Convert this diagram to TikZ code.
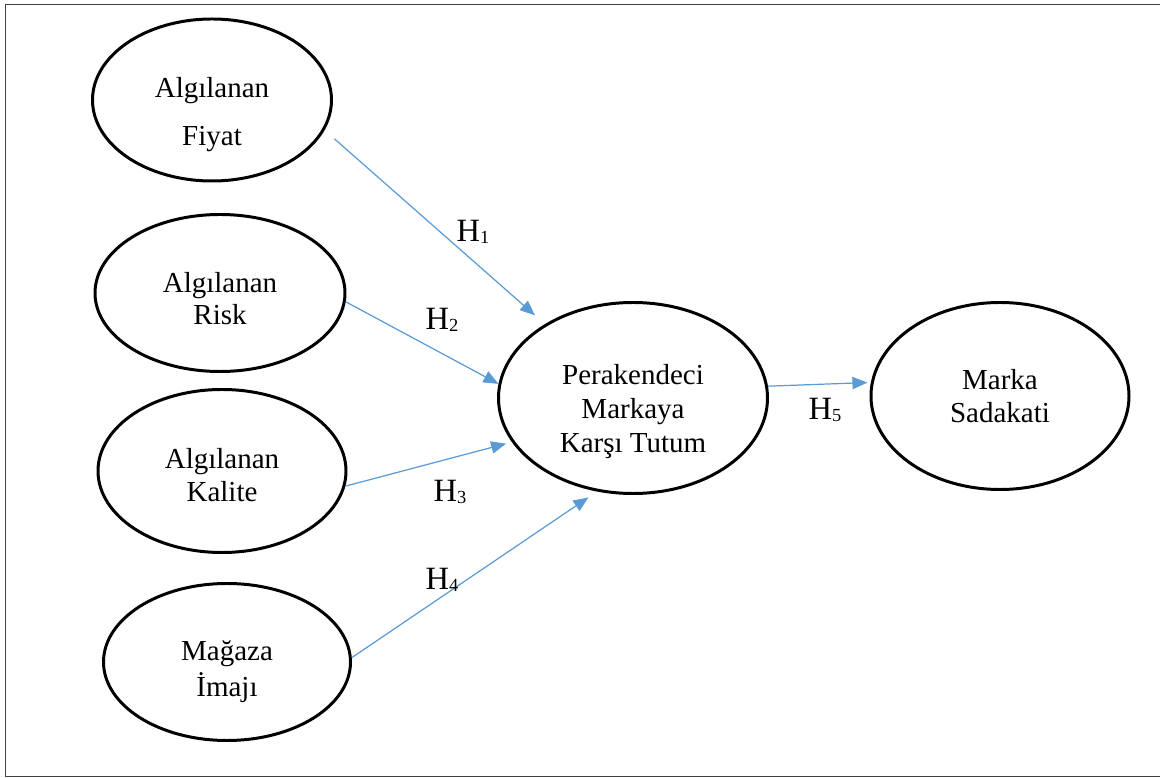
\documentclass[tikz,border=0pt]{standalone}
\usepackage{fontspec}
\setmainfont{Liberation Serif}
\usetikzlibrary{shapes.geometric,arrows.meta}
\definecolor{arrowblue}{HTML}{5B9BD5}
\newcommand{\hsub}[1]{H\raisebox{-0.15ex}{\fontsize{10.5}{10.5}\selectfont#1}}

\begin{document}
\begin{tikzpicture}[x=0.2mm,y=-0.2mm,
        construct/.style={ellipse,draw,line width=1.7pt,inner sep=0pt,align=center,font=\fontsize{16.5}{18.5}\selectfont},
        hyparrow/.style={-{Triangle[length=8.5pt,width=7pt]},draw=arrowblue,line width=0.7pt},
        hlabel/.style={font=\fontsize{18.5}{20}\selectfont}]
        \useasboundingbox(0,0)rectangle(1160,778);
        \draw[line width=1.1pt,black!75](5.5,4.5)rectangle(1170,776.5);

        % constructs (rules push the text down inside the ellipse)
        \node[construct,minimum width=47.8mm,minimum height=32.4mm](fiyat)at(212,100){\rule{0pt}{28pt}Algılanan\\[9pt]Fiyat};
        \node[construct,minimum width=50mm,minimum height=31.4mm](risk)at(220,293){\rule{0pt}{18pt}Algılanan\\Risk};
        \node[construct,minimum width=49.6mm,minimum height=32.6mm](kalite)at(222,471){\rule{0pt}{16pt}Algılanan\\Kalite};
        \node[construct,minimum width=49.4mm,minimum height=31.4mm](magaza)at(227,662){\rule{0pt}{22.6pt}Mağaza\\[2pt]İmajı};
        \node[construct,minimum width=53.8mm,minimum height=38.2mm](tutum)at(633,398){\rule{0pt}{27pt}Perakendeci\\[1pt]Markaya\\[1pt]Karşı Tutum};
        \node[construct,minimum width=51.6mm,minimum height=37.4mm](sadakat)at(1000,396){Marka\\Sadakati};

        \draw[hyparrow,shorten <=7.4pt,shorten >=7.6pt](fiyat.-15)--(tutum.140);
        \draw[hyparrow](risk.-4)--(tutum.174);
        \draw[hyparrow,shorten >=3.4pt](kalite.-7)--(tutum.-160);
        \draw[hyparrow,shorten >=6pt](magaza.2)--(tutum.-111);
        \draw[hyparrow,shorten >=2pt](tutum.5)--(sadakat.174);

        \node[hlabel](h1)at(473,232){\hsub{1}};
        \node[hlabel](h2)at(442,320){\hsub{2}};
        \node[hlabel](h3)at(450,492){\hsub{3}};
        \node[hlabel](h4)at(442,580){\hsub{4}};
        \node[hlabel](h5)at(825,410){\hsub{5}};
    \end{tikzpicture}
\end{document}
